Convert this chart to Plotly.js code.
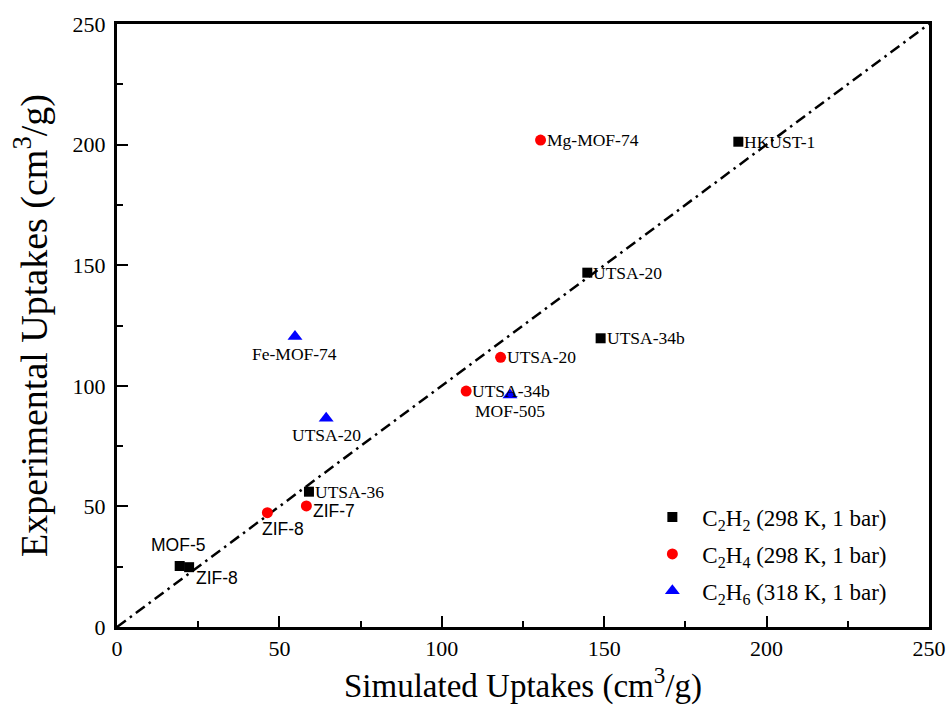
<!DOCTYPE html>
<html>
<head>
<meta charset="utf-8">
<script src="https://cdn.plot.ly/plotly-3.0.1.min.js"></script>
<style>
  html, body { margin: 0; padding: 0; background: #fff; }
  #chart { width: 948px; height: 705px; }
</style>
</head>
<body>
<div id="chart"></div>
<script>
// ---- Data ----
const c2h2Sim = [19.3, 22.2, 59.1, 144.8, 148.9, 191.3];
const c2h2Exp = [25.3, 24.8, 56.1, 146.9, 119.7, 201.2];
const c2h2Names = ["MOF-5", "ZIF-8", "UTSA-36", "UTSA-20", "UTSA-34b", "HKUST-1"];

const c2h4Sim = [46.3, 58.3, 107.5, 118.1, 130.4];
const c2h4Exp = [47.4, 50.2, 97.8, 111.8, 201.9];
const c2h4Names = ["ZIF-8", "ZIF-7", "UTSA-34b", "UTSA-20", "Mg-MOF-74"];

const c2h6Sim = [54.8, 64.4, 121.0];
const c2h6Exp = [120.4, 86.5, 96.2];
const c2h6Names = ["Fe-MOF-74", "UTSA-20", "MOF-505"];

const parityLine = [0, 250];
const seriesNames = [
  "C<sub>2</sub>H<sub>2</sub> (298 K, 1 bar)",
  "C<sub>2</sub>H<sub>4</sub> (298 K, 1 bar)",
  "C<sub>2</sub>H<sub>6</sub> (318 K, 1 bar)"
];
const xTitle = "Simulated Uptakes (cm<sup>3</sup>/g)";
const yTitle = "Experimental Uptakes (cm<sup>3</sup>/g)";

// ---- Label placement (style only) ----
const SERIF = "Liberation Serif, Times New Roman, serif";
const SANS = "Liberation Sans, Arial, sans-serif";
const c2h2LabelStyle = [
  {xanchor: "center", xshift: -2, yshift: 21, font: SANS},
  {xanchor: "left", xshift: 5, yshift: -11, font: SANS},
  {xanchor: "left", xshift: 4, yshift: 0, font: SERIF},
  {xanchor: "left", xshift: 4, yshift: 0, font: SERIF},
  {xanchor: "left", xshift: 4, yshift: 0, font: SERIF},
  {xanchor: "left", xshift: 4, yshift: 0, font: SERIF}
];
const c2h4LabelStyle = [
  {xanchor: "left", xshift: -7, yshift: -16, font: SANS},
  {xanchor: "left", xshift: 5, yshift: -5, font: SANS},
  {xanchor: "left", xshift: 4, yshift: 0, font: SERIF},
  {xanchor: "left", xshift: 4, yshift: 0, font: SERIF},
  {xanchor: "left", xshift: 4, yshift: 0, font: SERIF}
];
const c2h6LabelStyle = [
  {xanchor: "center", xshift: 0, yshift: -17, font: SERIF},
  {xanchor: "center", xshift: 0, yshift: -17, font: SERIF},
  {xanchor: "center", xshift: 0, yshift: -16, font: SERIF}
];

function makeLabels(xs, ys, names, styles) {
  return names.map((n, i) => ({
    x: xs[i], y: ys[i], xref: "x", yref: "y",
    text: n, showarrow: false,
    xanchor: styles[i].xanchor, yanchor: "middle",
    xshift: styles[i].xshift, yshift: styles[i].yshift,
    font: {family: styles[i].font, size: 17.5, color: "#000"}
  }));
}

const traces = [
  {
    x: parityLine, y: parityLine, mode: "lines", showlegend: false,
    line: {color: "#000", width: 2.5, dash: "11px,5px,2.5px,5px"},
    hoverinfo: "skip"
  },
  {
    x: c2h2Sim, y: c2h2Exp, mode: "markers", name: seriesNames[0], legendgroup: "a",
    marker: {symbol: "square", size: 10, color: "#000"}
  },
  {
    x: c2h4Sim, y: c2h4Exp, mode: "markers", name: seriesNames[1], legendgroup: "b",
    marker: {symbol: "circle", size: 11, color: "#ff0000"}
  },
  {
    x: c2h6Sim, y: c2h6Exp, mode: "markers", name: seriesNames[2], legendgroup: "c",
    marker: {symbol: "triangle-up", size: 13, color: "#0000ff"}
  }
];

const axisCommon = {
  range: [0, 250],
  dtick: 50,
  tick0: 0,
  ticks: "inside",
  ticklen: 11,
  tickwidth: 2,
  tickcolor: "#000",
  showline: true,
  linewidth: 3,
  linecolor: "#000",
  mirror: true,
  showgrid: false,
  zeroline: false,
  tickfont: {family: SERIF, size: 22, color: "#000"},
  minor: {dtick: 25, ticks: "inside", ticklen: 6, tickwidth: 2, tickcolor: "#000", showgrid: false}
};

const layout = {
  width: 948, height: 705,
  margin: {l: 117, r: 19, t: 24, b: 78},
  paper_bgcolor: "#fff", plot_bgcolor: "#fff",
  showlegend: true,
  xaxis: Object.assign({}, axisCommon, {
    title: {text: xTitle, font: {family: SERIF, size: 33, color: "#000"}, standoff: 15}
  }),
  yaxis: Object.assign({}, axisCommon, {
    ticklabelstandoff: 4,
    title: {text: yTitle, font: {family: SERIF, size: 38, color: "#000"}, standoff: 14}
  }),
  legend: {
    x: 0.647, y: 0.218, xanchor: "left", yanchor: "top",
    bgcolor: "rgba(0,0,0,0)", borderwidth: 0,
    font: {family: SERIF, size: 23, color: "#000"},
    traceorder: "grouped",
    tracegroupgap: 4,
    itemwidth: 50
  },
  annotations: [].concat(
    makeLabels(c2h2Sim, c2h2Exp, c2h2Names, c2h2LabelStyle),
    makeLabels(c2h4Sim, c2h4Exp, c2h4Names, c2h4LabelStyle),
    makeLabels(c2h6Sim, c2h6Exp, c2h6Names, c2h6LabelStyle)
  )
};

Plotly.newPlot("chart", traces, layout, {displayModeBar: false, staticPlot: true});
</script>
</body>
</html>
